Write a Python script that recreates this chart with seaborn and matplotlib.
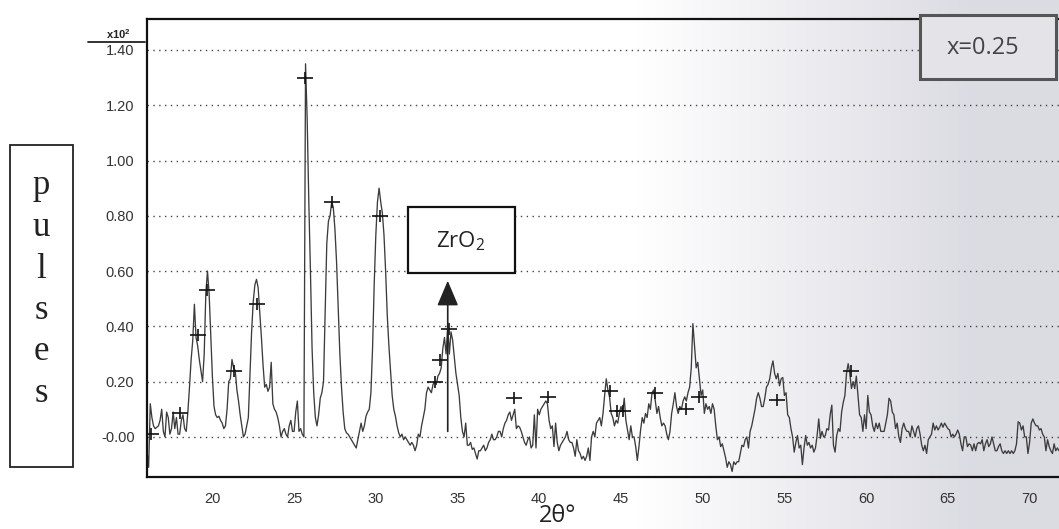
import numpy as np
import matplotlib
matplotlib.use('Agg')
import matplotlib.pyplot as plt
from matplotlib.patches import Rectangle
from matplotlib.lines import Line2D
from matplotlib.ticker import MultipleLocator
import seaborn as sns

# XRD trace, one row per degree (2theta step 0.1), units x10^2 pulses
pulses = [
    -0.05, -0.11, 0.12, 0.07, 0.04, 0.03, 0.035, 0.04, 0.06, 0.10,      # 16
    0.02, 0.0, 0.09, 0.07, 0.01, 0.03, 0.09, 0.03, 0.07, 0.01,          # 17
    0.01, 0.06, 0.08, 0.03, 0.02, 0.09, 0.18, 0.28, 0.35, 0.48,         # 18
    0.36, 0.33, 0.28, 0.24, 0.20, 0.30, 0.52, 0.60, 0.52, 0.37,         # 19
    0.22, 0.11, 0.08, 0.07, 0.075, 0.06, 0.05, 0.03, 0.04, 0.10,        # 20
    0.20, 0.21, 0.28, 0.25, 0.24, 0.17, 0.13, 0.08, 0.04, 0.0,          # 21
    0.01, 0.04, 0.07, 0.22, 0.38, 0.49, 0.55, 0.57, 0.54, 0.45,         # 22
    0.36, 0.26, 0.18, 0.19, 0.165, 0.18, 0.27, 0.12, 0.10, 0.09,        # 23
    0.07, 0.04, 0.0, 0.02, 0.03, 0.01, 0.0, 0.04, 0.06, 0.02,           # 24
    0.02, 0.09, 0.13, 0.02, 0.03, 0.01, 0.0, 1.35, 1.15, 0.85,          # 25
    0.60, 0.32, 0.16, 0.07, 0.04, 0.08, 0.14, 0.16, 0.20, 0.45,         # 26
    0.70, 0.78, 0.80, 0.85, 0.83, 0.75, 0.63, 0.46, 0.30, 0.18,         # 27
    0.09, 0.03, 0.015, 0.01, 0.0, -0.01, -0.02, -0.03, -0.04, -0.01,    # 28
    0.02, 0.05, 0.02, 0.04, 0.075, 0.09, 0.10, 0.16, 0.32, 0.55,        # 29
    0.73, 0.85, 0.90, 0.85, 0.81, 0.73, 0.60, 0.44, 0.33, 0.24,         # 30
    0.15, 0.10, 0.075, 0.04, 0.015, 0.0, 0.01, -0.01, 0.0, -0.01,       # 31
    -0.02, -0.03, -0.02, -0.03, -0.05, -0.03, 0.01, 0.0, 0.04, 0.07,    # 32
    0.10, 0.16, 0.18, 0.17, 0.16, 0.19, 0.20, 0.19, 0.22, 0.23,         # 33
    0.25, 0.32, 0.36, 0.30, 0.40, 0.30, 0.38, 0.35, 0.29, 0.23,         # 34
    0.19, 0.15, 0.07, 0.02, 0.0, 0.05, -0.03, -0.03, -0.02, -0.045,     # 35
    -0.04, -0.06, -0.08, -0.05, -0.05, -0.04, -0.03, -0.05, -0.04, -0.02,  # 36
    -0.01, 0.01, -0.01, -0.01, 0.0, 0.02, 0.02, 0.0, 0.03, 0.05,        # 37
    0.06, 0.08, 0.09, 0.06, 0.08, 0.10, 0.03, 0.04, 0.035, 0.02,        # 38
    0.0, -0.02, -0.03, -0.01, 0.0, -0.04, -0.03, 0.08, -0.04, 0.10,     # 39
    0.08, 0.10, 0.11, 0.12, 0.13, 0.12, 0.06, 0.03, 0.04, -0.035,       # 40
    0.05, -0.02, -0.05, -0.03, -0.02, -0.01, 0.0, 0.02, -0.01, -0.02,   # 41
    -0.02, -0.04, -0.07, -0.01, -0.05, -0.06, -0.08, -0.07, -0.085, -0.07,  # 42
    -0.04, -0.085, 0.0, 0.02, 0.0, 0.05, 0.06, 0.07, 0.04, 0.085,       # 43
    0.15, 0.21, 0.17, 0.145, 0.085, 0.07, 0.04, 0.06, 0.05, 0.085,      # 44
    0.11, 0.09, 0.14, 0.06, 0.025, -0.01, 0.04, 0.0, 0.0, -0.035,       # 45
    -0.085, -0.035, 0.025, 0.07, 0.05, 0.085, 0.07, 0.12, 0.10, 0.16,   # 46
    0.17, 0.13, 0.085, 0.11, 0.07, 0.04, 0.05, 0.04, 0.01, -0.01,       # 47
    0.02, 0.085, 0.12, 0.16, 0.11, 0.085, 0.11, 0.10, 0.13, 0.145,      # 48
    0.13, 0.16, 0.18, 0.25, 0.41, 0.33, 0.25, 0.27, 0.21, 0.15,         # 49
    0.17, 0.085, 0.12, 0.10, 0.11, 0.085, 0.12, 0.10, 0.04, -0.01,      # 50
    0.0, -0.035, -0.025, -0.05, -0.075, -0.11, -0.09, -0.10, -0.125, -0.09,  # 51
    -0.10, -0.09, -0.09, -0.06, -0.03, -0.035, -0.01, 0.0, -0.04, 0.02,  # 52
    0.04, 0.07, 0.10, 0.14, 0.16, 0.14, 0.11, 0.11, 0.14, 0.18,         # 53
    0.19, 0.21, 0.25, 0.275, 0.23, 0.21, 0.23, 0.185, 0.21, 0.215,      # 54
    0.15, 0.16, 0.08, 0.07, 0.03, 0.0, -0.055, -0.02, 0.005, -0.04,     # 55
    -0.03, -0.10, -0.04, 0.005, -0.03, -0.02, -0.04, -0.03, -0.055, -0.04,  # 56
    0.005, 0.065, -0.005, 0.02, 0.0, 0.005, 0.03, 0.025, 0.08, 0.115,   # 57
    -0.03, -0.055, 0.005, 0.03, 0.02, 0.09, 0.125, 0.15, 0.23, 0.265,   # 58
    0.23, 0.175, 0.20, 0.175, 0.22, 0.15, 0.08, 0.07, 0.02, 0.08,       # 59
    0.03, 0.15, 0.09, 0.08, 0.04, 0.02, 0.05, 0.03, 0.05, 0.02,         # 60
    0.02, 0.02, 0.05, 0.08, 0.14, 0.13, 0.09, 0.08, 0.03, 0.05,         # 61
    0.0, -0.02, 0.03, 0.05, 0.03, 0.02, 0.02, 0.0, 0.04, 0.02,          # 62
    0.0, 0.03, 0.04, 0.01, -0.03, -0.05, -0.03, -0.06, -0.01, 0.0,      # 63
    0.01, 0.05, 0.025, 0.04, 0.025, 0.035, 0.05, 0.035, 0.05, 0.04,     # 64
    0.03, 0.025, 0.0, 0.01, 0.0, 0.01, 0.025, 0.01, -0.025, -0.05,      # 65
    0.0, 0.0, -0.035, -0.025, -0.03, -0.05, -0.025, -0.05, -0.025, -0.02,  # 66
    -0.025, -0.01, -0.05, -0.025, -0.01, -0.035, -0.025, 0.0, -0.025, -0.05,  # 67
    -0.05, -0.035, -0.025, -0.05, -0.06, -0.05, -0.06, -0.05, -0.06, -0.05,  # 68
    -0.06, -0.05, -0.025, 0.055, 0.05, 0.025, 0.04, 0.0, 0.0, -0.06,    # 69
    -0.02, 0.05, 0.065, 0.05, 0.04, 0.04, 0.025, 0.03, 0.01, 0.0,       # 70
    -0.05, -0.01, -0.035, -0.05, -0.06, -0.025, -0.05, -0.04, -0.05,    # 71
]
two_theta = np.round(16.0 + 0.1 * np.arange(len(pulses)), 1)

# '+' peak markers
peak_theta = [16.25, 18.0, 19.1, 19.7, 21.3, 22.7, 25.65, 27.3, 30.25, 33.65, 33.95,
              34.45, 38.45, 40.55, 44.35, 44.75, 45.1, 47.1, 49.0, 49.8, 54.55, 59.05]
peak_height = [0.01, 0.085, 0.37, 0.53, 0.24, 0.48, 1.30, 0.85, 0.80, 0.20, 0.28,
               0.39, 0.14, 0.145, 0.165, 0.095, 0.095, 0.16, 0.10, 0.145, 0.135, 0.24]

x_ticks = [20, 25, 30, 35, 40, 45, 50, 55, 60, 65, 70]
y_ticks = [0.0, 0.2, 0.4, 0.6, 0.8, 1.0, 1.2, 1.4]
y_tick_labels = ['-0.00', '0.20', '0.40', '0.60', '0.80', '1.00', '1.20', '1.40']

zro2_theta = 34.4
zro2_arrow = (0.02, 0.565)

sns.set_style('white')
plt.rcParams['font.family'] = ['Liberation Sans', 'DejaVu Sans']

W, H = 1059, 529
fig = plt.figure(figsize=(W / 100, H / 100), dpi=100)


def fx(px):
    return px / W


def fy(py):
    return 1 - py / H


# scanner shading towards the right
bg = fig.add_axes([0, 0, 1, 1], zorder=-10)
t = np.clip((np.linspace(0, 1, 400) - 0.6) / 0.32, 0, 1)
shade = np.stack([1 - 0.14 * t, 1 - 0.14 * t, 1 - 0.11 * t], axis=-1)[None, :, :]
bg.imshow(shade, extent=[0, 1, 0, 1], aspect='auto')
bg.axis('off')

ax = fig.add_axes([fx(147), fy(477), 1 - fx(147), fy(19) - fy(477)])
ax.patch.set_alpha(0)

sns.lineplot(x=two_theta, y=pulses, ax=ax, color='#3c3c3c', lw=0.95,
             estimator=None, sort=False, errorbar=None)
ax.plot(peak_theta, peak_height, ls='none', marker='_', ms=12, mew=1.2, color='#111')
ax.plot(peak_theta, peak_height, ls='none', marker='|', ms=8, mew=1.2, color='#111')

ax.annotate('', xy=(zro2_theta, zro2_arrow[1]), xytext=(zro2_theta, zro2_arrow[0]),
            arrowprops=dict(arrowstyle='-|>,head_length=1.3,head_width=0.55',
                            mutation_scale=12, color='#222', lw=1.2,
                            shrinkA=0, shrinkB=0))

ax.set_xlim(16, 71.8)
ax.set_ylim(-0.145, 1.512)
ax.set_xticks(x_ticks)
ax.set_xticklabels([str(v) for v in x_ticks])
ax.xaxis.set_minor_locator(MultipleLocator(0.5))
ax.set_yticks(y_ticks)
ax.set_yticklabels(y_tick_labels)
ax.yaxis.set_minor_locator(MultipleLocator(0.02))
ax.tick_params(axis='both', which='major', direction='out', length=6, width=1.1,
               color='#222', labelsize=10.5, labelcolor='#333', pad=3)
ax.tick_params(axis='both', which='minor', direction='out', length=3.5, width=1.0,
               color='#333')
ax.tick_params(axis='x', which='major', pad=5)
ax.grid(axis='y', which='major', linestyle=(0, (1, 3.2)), color='#444', lw=1.0)
ax.grid(axis='x', visible=False)
ax.set_xlabel('')
ax.set_ylabel('')
for side in ['left', 'bottom', 'top']:
    ax.spines[side].set_color('#111')
    ax.spines[side].set_linewidth(1.6)
ax.spines['right'].set_visible(False)

# x10^2 multiplier above the y axis
fig.text(fx(118), fy(34), 'x10$^\\mathregular{2}$', ha='center', va='center',
         fontsize=8, color='#222', weight='bold')
fig.add_artist(Line2D([fx(88), fx(145)], [fy(42), fy(42)], color='#222', lw=1.3))

# vertical "pulses" label in a box
fig.add_artist(Rectangle((fx(10), fy(467)), fx(73) - fx(10), fy(145) - fy(467),
                         fill=False, ec='#222', lw=1.3))
for i, ch in enumerate('pulses'):
    fig.text(fx(41), fy(186 + 41.5 * i), ch, ha='center', va='center',
             fontsize=25, family='Liberation Serif', color='#222')

fig.text(fx(558), fy(516), '2θ°', ha='center', va='center', fontsize=17,
         family='Open Sans', color='#222')

# ZrO2 label box
fig.add_artist(Rectangle((fx(408), fy(273)), fx(515) - fx(408), fy(207) - fy(273),
                         fc='white', ec='#111', lw=1.6, zorder=5))
fig.text(fx(461), fy(241), 'ZrO$_\\mathregular{2}$', ha='center', va='center',
         fontsize=16, family='Open Sans', color='#222', zorder=6)

# sample label box
fig.add_artist(Rectangle((fx(920), fy(79)), fx(1056) - fx(920), fy(15) - fy(79),
                         fc='#e4e4e8', ec='#555', lw=2.2, zorder=5))
fig.text(fx(983), fy(48), 'x=0.25', ha='center', va='center', fontsize=17,
         family='Open Sans', color='#444', zorder=6)

fig.savefig('out.png', dpi=100)
